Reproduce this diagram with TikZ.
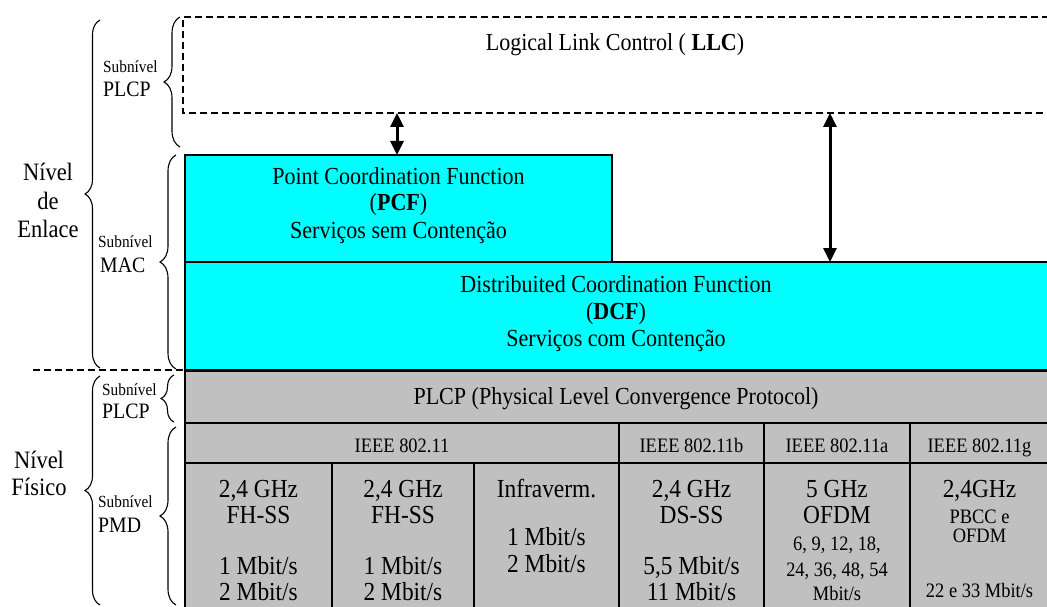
\documentclass[tikz,border=0pt]{standalone}
\usepackage{fontspec}
\setmainfont{Liberation Serif}[FakeStretch=0.9]
\usetikzlibrary{arrows.meta,decorations.pathreplacing}
\definecolor{macfill}{RGB}{0,255,255}
\definecolor{phyfill}{RGB}{192,192,192}
\newcommand\fmain{\fontsize{24.5}{28}\selectfont}
\newcommand\fcell{\fontsize{26}{28}\selectfont}
\newcommand\fhead{\fontsize{20.5}{22}\selectfont}
\newcommand\fsmall{\fontsize{20.5}{22}\selectfont}
\newcommand\fsub{\fontsize{17}{19}\selectfont}
\newcommand\fsubname{\fontsize{22}{24}\selectfont}
\newcommand\flevel{\fontsize{25}{28}\selectfont}
\begin{document}
\begin{tikzpicture}[x=1pt,y=-1pt,
  box/.style={draw=black, line width=1.4pt, inner sep=0, outer sep=0, anchor=north west},
  macbox/.style={box, fill=macfill},
  phybox/.style={box, fill=phyfill},
  txt/.style={anchor=base, inner sep=0},
  ltxt/.style={anchor=base west, inner sep=0},
  layerbrace/.style={decorate, decoration={brace, amplitude=#1}, line width=1.1pt},
  dashline/.style={line width=2pt, dash pattern=on 7pt off 4pt},
  link/.style={line width=3pt, {Triangle[length=14pt,width=13pt]}-{Triangle[length=14pt,width=13pt]}}
]
\useasboundingbox (0,0) rectangle (1047,607);
\clip (0,0) rectangle (1047,607);

% LLC (dashed, open to the right)
\node[inner sep=0, outer sep=0, anchor=north west, minimum width=866, minimum height=96] (llc) at (183,17) {};
\draw[dashline] (llc.north east) -- (llc.north west) -- (llc.south west) -- (llc.south east);
\node[txt, font=\fmain] (llcT) at (615,51) {Logical Link Control ( \textbf{LLC})};

% MAC sublayer
\node[macbox, minimum width=427, minimum height=107] (pcf) at (185,155) {};
\node[macbox, minimum width=864, minimum height=108] (dcf) at (185,262) {};
\node[txt, font=\fmain] (pcf1) at (398.5,184) {Point Coordination Function};
\node[txt, font=\fmain] (pcf2) at (398.5,211) {(\textbf{PCF})};
\node[txt, font=\fmain] (pcf3) at (398.5,238) {Serviços sem Contenção};
\node[txt, font=\fmain] (dcf1) at (616,292) {Distribuited Coordination Function};
\node[txt, font=\fmain] (dcf2) at (616,319) {(\textbf{DCF})};
\node[txt, font=\fmain] (dcf3) at (616,346) {Serviços com Contenção};

% service links
\coordinate (a1) at (397,0);
\coordinate (a2) at (830,0);
\draw[link] (llc.south -| a1) -- (pcf.north -| a1);
\draw[link] (llc.south -| a2) -- (dcf.north -| a2);

% physical layer
\node[phybox, minimum width=864, minimum height=52] (plcp) at (185,371) {};
\node[txt, font=\fmain] (plcpT) at (616,404) {PLCP (Physical Level Convergence Protocol)};

\node[phybox, minimum width=434, minimum height=40] (hA) at (185,423) {};
\node[phybox, minimum width=145, minimum height=40] (hB) at (619,423) {};
\node[phybox, minimum width=146, minimum height=40] (hC) at (764,423) {};
\node[phybox, minimum width=139, minimum height=40] (hD) at (910,423) {};
\node[txt, font=\fhead] (hAT) at (hA.center |- 0,452) {IEEE 802.11};
\node[txt, font=\fhead] (hBT) at (hB.center |- 0,452) {IEEE 802.11b};
\node[txt, font=\fhead] (hCT) at (hC.center |- 0,452) {IEEE 802.11a};
\node[txt, font=\fhead] (hDT) at (hD.center |- 0,452) {IEEE 802.11g};

\node[phybox, minimum width=147, minimum height=150] (c1) at (185,463) {};
\node[phybox, minimum width=142, minimum height=150] (c2) at (332,463) {};
\node[phybox, minimum width=145, minimum height=150] (c3) at (474,463) {};
\node[phybox, minimum width=145, minimum height=150] (c4) at (619,463) {};
\node[phybox, minimum width=146, minimum height=150] (c5) at (764,463) {};
\node[phybox, minimum width=139, minimum height=150] (c6) at (910,463) {};

\node[txt, font=\fcell] (c1a) at (c1.center |- 0,497) {2,4 GHz};
\node[txt, font=\fcell] (c1b) at (c1.center |- 0,523) {FH-SS};
\node[txt, font=\fcell] (c1c) at (c1.center |- 0,574) {1 Mbit/s};
\node[txt, font=\fcell] (c1d) at (c1.center |- 0,600) {2 Mbit/s};

\node[txt, font=\fcell] (c2a) at (c2.center |- 0,497) {2,4 GHz};
\node[txt, font=\fcell] (c2b) at (c2.center |- 0,523) {FH-SS};
\node[txt, font=\fcell] (c2c) at (c2.center |- 0,574) {1 Mbit/s};
\node[txt, font=\fcell] (c2d) at (c2.center |- 0,600) {2 Mbit/s};

\node[txt, font=\fcell] (c3a) at (c3.center |- 0,497) {Infraverm.};
\node[txt, font=\fcell] (c3b) at (c3.center |- 0,545) {1 Mbit/s};
\node[txt, font=\fcell] (c3c) at (c3.center |- 0,572) {2 Mbit/s};

\node[txt, font=\fcell] (c4a) at (c4.center |- 0,497) {2,4 GHz};
\node[txt, font=\fcell] (c4b) at (c4.center |- 0,523) {DS-SS};
\node[txt, font=\fcell] (c4c) at (c4.center |- 0,574) {5,5 Mbit/s};
\node[txt, font=\fcell] (c4d) at (c4.center |- 0,600) {11 Mbit/s};

\node[txt, font=\fcell] (c5a) at (c5.center |- 0,497) {5 GHz};
\node[txt, font=\fcell] (c5b) at (c5.center |- 0,523) {OFDM};
\node[txt, font=\fsmall] (c5c) at (c5.center |- 0,550) {6, 9, 12, 18,};
\node[txt, font=\fsmall] (c5d) at (c5.center |- 0,576) {24, 36, 48, 54};
\node[txt, font=\fsmall] (c5e) at (c5.center |- 0,600) {Mbit/s};

\node[txt, font=\fcell] (c6a) at (c6.center |- 0,497) {2,4GHz};
\node[txt, font=\fsmall] (c6b) at (c6.center |- 0,523) {PBCC e};
\node[txt, font=\fsmall] (c6c) at (c6.center |- 0,542) {OFDM};
\node[txt, font=\fsmall] (c6d) at (c6.center |- 0,597) {22 e 33 Mbit/s};

% boundary between link and physical levels
\coordinate (sepL) at (33,370);
\draw[dashline] (sepL) -- (dcf.south west);

% layer braces
\draw[layerbrace=15pt] (100,368) -- (100,20);
\draw[layerbrace=15pt] (100,605) -- (100,376);
\draw[layerbrace=16pt] (180,147) -- (180,17);
\draw[layerbrace=16pt] (176,369) -- (176,155);
\draw[layerbrace=13pt] (174,422) -- (174,375);
\draw[layerbrace=16pt] (176,605) -- (176,427);

% layer labels
\node[txt, font=\flevel] (enl1) at (48,180) {Nível};
\node[txt, font=\flevel] (enl2) at (48,209) {de};
\node[txt, font=\flevel] (enl3) at (48,237) {Enlace};
\node[txt, font=\flevel] (fis1) at (39,468) {Nível};
\node[txt, font=\flevel] (fis2) at (39,495) {Físico};

\node[ltxt, font=\fsub] (s1a) at (103,73) {Subnível};
\node[ltxt, font=\fsubname] (s1b) at (103,97) {PLCP};
\node[ltxt, font=\fsub] (s2a) at (98,247) {Subnível};
\node[ltxt, font=\fsubname] (s2b) at (100,272) {MAC};
\node[ltxt, font=\fsub] (s3a) at (102,395) {Subnível};
\node[ltxt, font=\fsubname] (s3b) at (102,418) {PLCP};
\node[ltxt, font=\fsub] (s4a) at (98,507) {Subnível};
\node[ltxt, font=\fsubname] (s4b) at (98,532) {PMD};
\end{tikzpicture}
\end{document}
